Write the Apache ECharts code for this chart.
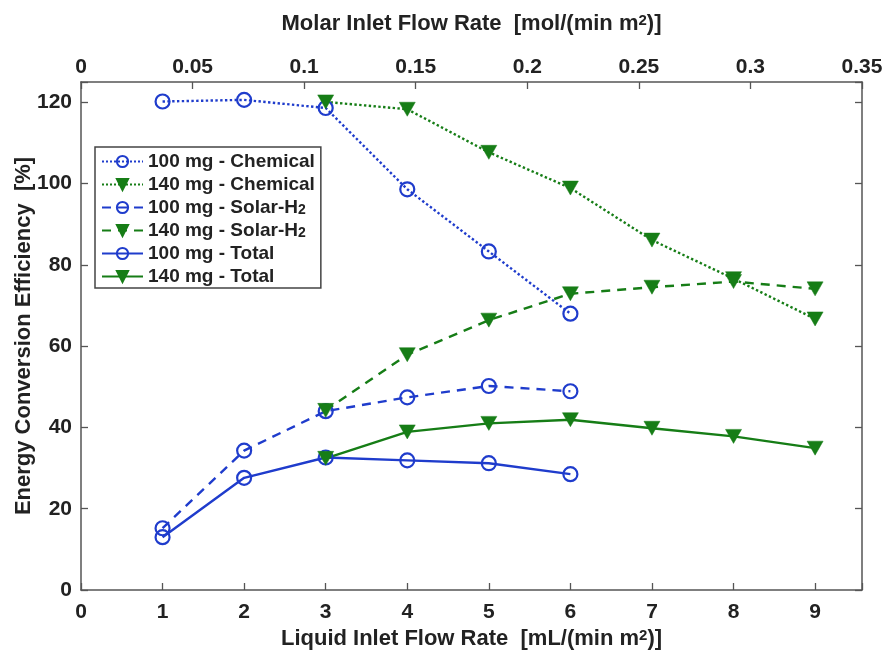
<!DOCTYPE html>
<html>
<head>
<meta charset="utf-8">
<script src="https://cdn.jsdelivr.net/npm/echarts@6/dist/echarts.min.js"></script>
<style>
html,body{margin:0;padding:0;background:#fff;}
#chart{width:888px;height:658px;}
</style>
</head>
<body>
<div id="chart"></div>
<script>
// ---- data ----
var xLiquid100 = [1, 2, 3, 4, 5, 6];
var xLiquid140 = [3, 4, 5, 6, 7, 8, 9];
var chem100  = [120.2, 120.6, 118.6, 98.6, 83.3, 68.0];
var chem140  = [120.1, 118.3, 107.7, 98.9, 86.1, 76.6, 66.7];
var solar100 = [15.2, 34.3, 44.0, 47.4, 50.2, 48.9];
var solar140 = [44.2, 57.9, 66.4, 72.9, 74.5, 75.9, 74.1];
var total100 = [13.0, 27.6, 32.6, 31.9, 31.2, 28.5];
var total140 = [32.4, 38.9, 41.0, 41.9, 39.8, 37.8, 34.9];
var xTicks = [0,1,2,3,4,5,6,7,8,9];
var yTicks = [0,20,40,60,80,100,120];
var topTicks = [0,0.05,0.1,0.15,0.2,0.25,0.3,0.35];

var BLUE = '#1f3ccc';
var GREEN = '#167d16';
var TXT = '#222';
var AX = '#555';
var FONT = '"Liberation Sans", Arial, sans-serif';

function pairs(xs, ys){ return xs.map(function(x,i){ return [x, ys[i]]; }); }

function mk(name, xs, ys, color, type, isCircle){
  var s = {
    name: name, type: 'line', xAxisIndex: 0, yAxisIndex: 0,
    data: pairs(xs, ys),
    lineStyle: {color: color, width: 2.4, type: type},
    symbolKeepAspect: true,
    animation: false
  };
  if (isCircle){
    s.symbol = 'circle'; s.symbolSize = 14;
    s.itemStyle = {color: 'rgba(255,255,255,0)', borderColor: color, borderWidth: 2.2};
  } else {
    s.symbol = 'triangle'; s.symbolRotate = 180; s.symbolSize = [16, 14];
    s.itemStyle = {color: color, borderColor: color, borderWidth: 0.5};
  }
  return s;
}

var chart = echarts.init(document.getElementById('chart'), null, {renderer: 'canvas'});
var labelStyle = {color: TXT, fontFamily: FONT, fontWeight: 'bold', fontSize: 21};
var nameRich = {
  sup: {fontSize: 15, fontWeight: 'bold', fontFamily: FONT, color: TXT, verticalAlign: 'top', lineHeight: 14}
};
var axLine = {show: true, onZero: false, lineStyle: {color: AX, width: 1.5}};
var axTick = {show: true, inside: true, length: 7, lineStyle: {color: AX, width: 1.3}};

chart.setOption({
  animation: false,
  backgroundColor: '#fff',
  grid: {left: 81, right: 26, top: 82, bottom: 68, show: false, containLabel: false, outerBoundsMode: 'none'},
  legend: {
    orient: 'vertical', left: 95, top: 147,
    padding: [5, 6, 2, 6],
    itemWidth: 41, itemHeight: 14, itemGap: 4,
    backgroundColor: '#fff', borderColor: '#444', borderWidth: 1.5,
    textStyle: {color: TXT, fontFamily: FONT, fontWeight: 'bold', fontSize: 19, lineHeight: 19,
      rich: {
        sub: {fontSize: 14, fontWeight: 'bold', fontFamily: FONT, color: TXT, verticalAlign: 'bottom', lineHeight: 19}
      }},
    formatter: function(n){ return n.replace('H2', 'H{sub|2}'); },
    data: ['100 mg - Chemical','140 mg - Chemical','100 mg - Solar-H2','140 mg - Solar-H2','100 mg - Total','140 mg - Total']
  },
  xAxis: [
    {
      type: 'value', position: 'bottom', min: 0, max: 9.575, interval: 1,
      name: 'Liquid Inlet Flow Rate  [mL/(min m{sup|2})]',
      nameLocation: 'middle', nameGap: 38, nameMoveOverlap: false,
      nameTextStyle: {color: TXT, fontFamily: FONT, fontWeight: 'bold', fontSize: 22, rich: nameRich},
      axisLine: axLine, axisTick: axTick,
      axisLabel: Object.assign({margin: 12, formatter: function(v){ return xTicks.indexOf(v) >= 0 ? String(v) : ''; }}, labelStyle),
      splitLine: {show: false}
    },
    {
      type: 'value', position: 'top', min: 0, max: 0.35, interval: 0.05,
      name: 'Molar Inlet Flow Rate  [mol/(min m{sup|2})]',
      nameLocation: 'middle', nameGap: 47, nameMoveOverlap: false,
      nameTextStyle: {color: TXT, fontFamily: FONT, fontWeight: 'bold', fontSize: 22, rich: nameRich},
      axisLine: axLine, axisTick: axTick,
      axisLabel: Object.assign({margin: 4, formatter: function(v){
        var r = Math.round(v * 100) / 100;
        return topTicks.indexOf(r) >= 0 ? String(r) : '';
      }}, labelStyle),
      splitLine: {show: false}
    }
  ],
  yAxis: [
    {
      type: 'value', position: 'left', min: 0, max: 125, interval: 20,
      name: 'Energy Conversion Efficiency  [%]',
      nameLocation: 'middle', nameGap: 46, nameMoveOverlap: false,
      nameTextStyle: {color: TXT, fontFamily: FONT, fontWeight: 'bold', fontSize: 22},
      axisLine: axLine, axisTick: axTick,
      axisLabel: Object.assign({margin: 9, formatter: function(v){ return yTicks.indexOf(v) >= 0 ? String(v) : ''; }}, labelStyle),
      splitLine: {show: false}
    },
    {
      type: 'value', position: 'right', min: 0, max: 125, interval: 20,
      axisLine: axLine, axisTick: axTick,
      axisLabel: {show: false},
      splitLine: {show: false}
    }
  ],
  series: [
    mk('100 mg - Chemical', xLiquid100, chem100, BLUE, 'dotted', true),
    mk('140 mg - Chemical', xLiquid140, chem140, GREEN, 'dotted', false),
    mk('100 mg - Solar-H2', xLiquid100, solar100, BLUE, [9, 7], true),
    mk('140 mg - Solar-H2', xLiquid140, solar140, GREEN, [9, 7], false),
    mk('100 mg - Total', xLiquid100, total100, BLUE, 'solid', true),
    mk('140 mg - Total', xLiquid140, total140, GREEN, 'solid', false)
  ]
});
</script>
</body>
</html>
